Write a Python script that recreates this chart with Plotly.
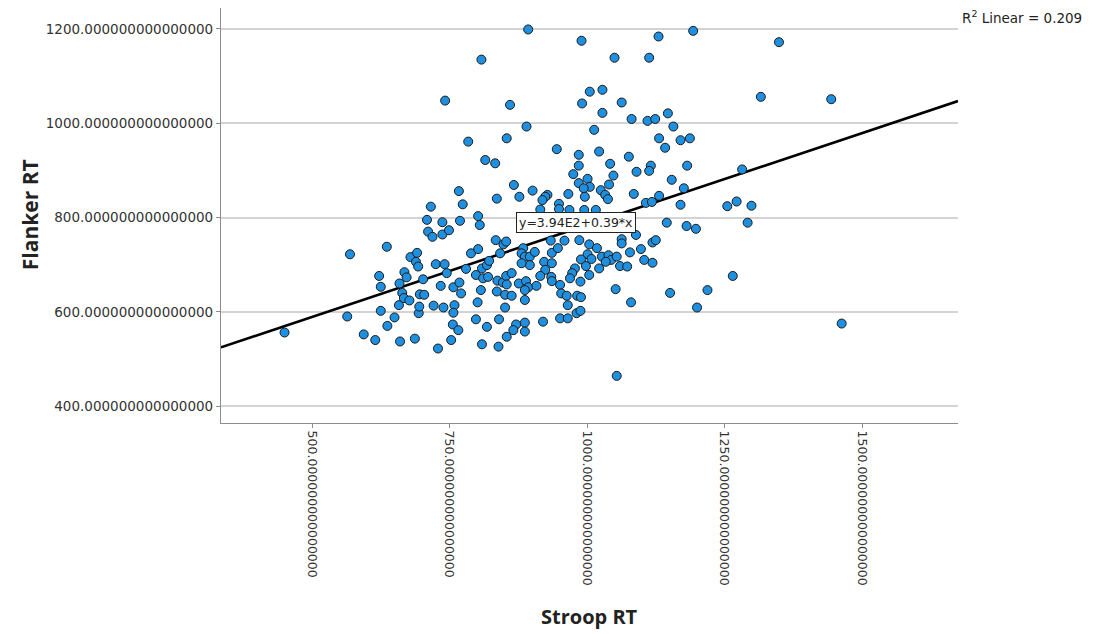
import plotly.graph_objects as go

# Data (Stroop RT vs Flanker RT)
stroop_rt = [450, 569, 564, 594, 615, 636, 622, 625, 625, 637, 650, 660, 658, 659, 664, 667, 668, 672, 677, 679,
             689, 691, 693, 687, 694, 695, 696, 808, 742, 860, 784, 854, 815, 833, 867, 767, 774, 716, 836, 877,
             709, 737, 769, 802, 805, 711, 719, 737, 749, 834, 848, 853, 842, 789, 802, 725, 741, 745, 780, 809,
             818, 822, 798, 811, 820, 837, 847, 853, 863, 854, 876, 702, 734, 757, 768, 771, 807, 836, 851, 863,
             704, 721, 739, 759, 757, 801, 851, 798, 840, 756, 766, 818, 871, 866, 854, 753, 809, 839, 729, 893,
             990, 1050, 1005, 1028, 991, 1028, 1063, 890, 1013, 945, 1022, 985, 985, 1042, 975, 1048, 1001, 985, 1005, 994,
             1040, 1025, 1033, 1038, 996, 966, 901, 928, 924, 919, 949, 949, 915, 968, 995, 1016, 934, 959, 986, 1004,
             1018, 884, 881, 887, 896, 905, 936, 947, 1001, 1008, 989, 1027, 1039, 1044, 1034, 1054, 922, 936, 896, 881,
             998, 1022, 978, 973, 1004, 924, 915, 935, 936, 969, 988, 889, 893, 908, 951, 953, 963, 982, 989, 887,
             887, 1052, 965, 981, 988, 951, 965, 920, 887, 887, 1054, 1193, 1130, 1113, 1081, 1110, 1124, 1147, 1157, 1131,
             1170, 1187, 1142, 1076, 1116, 1113, 1090, 1182, 1154, 1176, 1085, 1131, 1107, 1118, 1170, 1145, 1181, 1198, 1063, 1063,
             1089, 1119, 1125, 1098, 1078, 1104, 1119, 1060, 1073, 1151, 1219, 1080, 1200, 1349, 1316, 1444, 1282, 1255, 1272, 1299,
             1292, 1265, 1463]
flanker_rt = [556, 722, 590, 552, 540, 738, 676, 653, 602, 570, 588, 537, 614, 660, 640, 629, 684, 673, 624, 716,
              706, 725, 696, 543, 597, 611, 637, 1135, 1048, 1039, 961, 968, 922, 915, 869, 856, 828, 823, 840, 844,
              795, 790, 793, 803, 784, 770, 759, 764, 773, 752, 743, 749, 724, 724, 733, 701, 701, 682, 691, 692,
              699, 708, 678, 671, 674, 666, 662, 676, 682, 658, 660, 669, 655, 652, 662, 639, 646, 643, 636, 634,
              636, 613, 609, 614, 598, 620, 609, 584, 584, 573, 561, 568, 573, 561, 547, 540, 531, 526, 522, 1199,
              1175, 1139, 1067, 1071, 1042, 1022, 1044, 993, 986, 945, 940, 933, 910, 914, 892, 889, 882, 873, 865, 862,
              870, 858, 848, 839, 844, 850, 857, 848, 844, 837, 829, 818, 817, 816, 816, 816, 751, 751, 752, 743,
              735, 735, 724, 717, 717, 727, 725, 735, 722, 712, 711, 717, 720, 710, 706, 717, 706, 703, 699, 703,
              697, 692, 692, 682, 678, 689, 676, 674, 665, 671, 664, 665, 652, 655, 657, 639, 634, 634, 631, 646,
              625, 648, 614, 597, 602, 586, 586, 579, 577, 558, 464, 1196, 1184, 1139, 1009, 1005, 1009, 1021, 993, 968,
              964, 968, 948, 929, 910, 899, 897, 910, 880, 862, 850, 846, 831, 833, 827, 789, 782, 776, 754, 745,
              763, 747, 752, 733, 726, 710, 704, 697, 696, 640, 646, 620, 609, 1172, 1056, 1051, 902, 824, 834, 825,
              789, 676, 575]

fit_intercept = 394.0
fit_slope = 0.39
r_squared = 0.209

x_ticks = [500, 750, 1000, 1250, 1500]
y_ticks = [400, 600, 800, 1000, 1200]
x_range = [334.5, 1674.5]
y_range = [364, 1244.5]

x_ticktext = [f"{v}." + "0" * 15 for v in x_ticks]
y_ticktext = [f"{v}." + "0" * 15 for v in y_ticks]

fig = go.Figure()

fig.add_trace(go.Scatter(
    x=x_range,
    y=[fit_intercept + fit_slope * v for v in x_range],
    mode="lines",
    line=dict(color="black", width=2.6),
    hoverinfo="skip",
    showlegend=False,
))

fig.add_trace(go.Scatter(
    x=stroop_rt,
    y=flanker_rt,
    mode="markers",
    marker=dict(size=9, color="#1f8fe0", line=dict(color="#1a1a1a", width=1)),
    showlegend=False,
))

x_tick_font = dict(family="DejaVu Sans", size=12.5, color="#333333")
y_tick_font = dict(family="DejaVu Sans", size=13.5, color="#333333")

fig.update_layout(
    width=1086,
    height=626,
    margin=dict(l=213, r=136, t=0, b=211),
    paper_bgcolor="white",
    plot_bgcolor="white",
    xaxis=dict(
        range=x_range,
        tickvals=x_ticks,
        ticktext=x_ticktext,
        tickangle=90,
        tickfont=x_tick_font,
        showgrid=False,
        zeroline=False,
        showline=True,
        linecolor="#8c8c8c",
        linewidth=1.2,
        ticks="outside",
        ticklen=4,
        tickcolor="#8c8c8c",
    ),
    yaxis=dict(
        range=y_range,
        tickvals=y_ticks,
        ticktext=y_ticktext,
        tickfont=y_tick_font,
        showgrid=True,
        gridcolor="#d3d3d3",
        gridwidth=1.6,
        zeroline=False,
        showline=True,
        linecolor="#8c8c8c",
        linewidth=1.2,
        ticks="outside",
        ticklen=4,
        tickcolor="#8c8c8c",
    ),
    annotations=[
        dict(
            text="Flanker RT", xref="paper", yref="paper", x=-0.259, y=0.501,
            xanchor="center", yanchor="middle", textangle=-90, showarrow=False,
            font=dict(family="Open Sans", size=21, color="#222222", weight="bold"),
        ),
        dict(
            text="Stroop RT", xref="paper", yref="paper", x=0.5, y=-0.467,
            xanchor="center", yanchor="middle", showarrow=False,
            font=dict(family="Open Sans", size=20, color="#222222", weight="bold"),
        ),
        dict(
            text="R<sup>2</sup> Linear = 0.209", xref="paper", yref="paper", x=1.0, y=0.978,
            xanchor="left", yanchor="middle", xshift=2, showarrow=False,
            font=dict(family="DejaVu Sans", size=13.5, color="#222222"),
        ),
        dict(
            text="y=3.94E2+0.39*x", xref="x", yref="y", x=980, y=789,
            xanchor="center", yanchor="middle", showarrow=False,
            bgcolor="white", bordercolor="#222222", borderwidth=1, borderpad=2,
            font=dict(family="DejaVu Sans", size=12.5, color="#222222"),
        ),
    ],
)

fig.write_html("out.html")
